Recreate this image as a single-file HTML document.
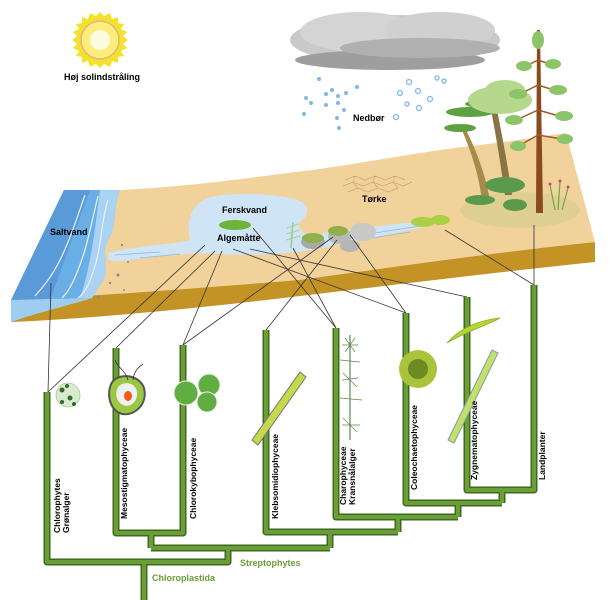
<!DOCTYPE html>
<html><head><meta charset="utf-8"><style>
html,body{margin:0;padding:0;background:#fff;}
svg{display:block;}
text{font-family:"Liberation Sans",sans-serif;font-weight:bold;}
</style></head><body>
<svg width="610" height="600" viewBox="0 0 610 600" xmlns="http://www.w3.org/2000/svg">
<!-- Sun -->
<polygon fill="#f3e130" points="100,12 104,16 110,13 112,19 118,17 118,23 124,24 121,29 127,32 123,36 128,40 123,44 127,48 121,51 124,56 118,57 118,63 112,61 110,67 104,64 100,68 96,64 90,67 88,61 82,63 82,57 76,56 79,51 73,48 77,44 72,40 77,36 73,32 79,29 76,24 82,23 82,17 88,19 90,13 96,16"/>
<circle cx="100" cy="40" r="19" fill="#fbef7a" stroke="#e9b27a" stroke-width="1.5"/>
<circle cx="100" cy="40" r="10" fill="#fffbe0"/>
<text x="64" y="80" font-size="9">Høj solindstråling</text>
<!-- Cloud -->
<ellipse cx="395" cy="40" rx="105" ry="25" fill="#c9c9c9"/>
<ellipse cx="360" cy="32" rx="60" ry="20" fill="#d4d4d4"/>
<ellipse cx="440" cy="30" rx="55" ry="18" fill="#d0d0d0"/>
<ellipse cx="390" cy="60" rx="95" ry="10" fill="#9e9e9e"/>
<ellipse cx="420" cy="48" rx="80" ry="10" fill="#b0b0b0"/>
<!-- Rain -->
<g fill="#7fb8e6">
<circle cx="319" cy="79" r="2"/><circle cx="306" cy="98" r="2"/><circle cx="311" cy="103" r="2"/>
<circle cx="326" cy="94" r="2"/><circle cx="332" cy="90" r="2"/><circle cx="338" cy="96" r="2"/>
<circle cx="346" cy="93" r="2"/><circle cx="357" cy="87" r="2"/><circle cx="326" cy="105" r="2"/>
<circle cx="338" cy="103" r="2"/><circle cx="344" cy="110" r="2"/><circle cx="304" cy="114" r="2"/>
<circle cx="337" cy="118" r="2"/><circle cx="339" cy="128" r="2"/>
</g>
<g fill="none" stroke="#8cc0ec" stroke-width="1.5">
<circle cx="409" cy="82" r="2.5"/><circle cx="437" cy="78" r="2"/><circle cx="444" cy="81" r="2"/>
<circle cx="400" cy="93" r="2.5"/><circle cx="418" cy="91" r="2.5"/><circle cx="430" cy="99" r="2.5"/>
<circle cx="407" cy="104" r="2"/><circle cx="419" cy="108" r="2.5"/><circle cx="396" cy="117" r="2.5"/>
</g>
<text x="353" y="121" font-size="9">Nedbør</text>
<!-- Slab: brown front face -->
<path d="M11,300 L11,322 C100,318 200,308 300,296 C400,284 500,272 595,262 L595,242 Z" fill="#c39326"/>
<!-- Top surface -->
<path d="M64,190 L120,190 C200,186 260,176 313,170 C370,162 430,150 480,145 C520,140 545,136 566,133 L595,242 C500,252 400,266 300,280 C200,288 100,296 11,300 Z" fill="#f2d29b"/>
<ellipse cx="520" cy="210" rx="60" ry="18" fill="#e0cf93"/>
<!-- Sea -->
<path d="M64,190 L120,190 C112,210 118,225 108,240 C100,255 112,270 100,285 L92,298 L11,300 Z" fill="#6aaee6"/>
<path d="M64,190 L90,190 L50,300 L11,300 Z" fill="#5b9ad8"/>
<path d="M100,190 L120,190 C112,210 118,225 108,240 C100,255 112,270 100,285 L92,298 L80,298 C90,270 95,230 100,190Z" fill="#a9d2f3"/>
<path d="M11,300 L92,298 C70,305 40,312 11,322Z" fill="#9fcdf2"/>
<g fill="none" stroke="#e8f4ff" stroke-width="1.2">
<path d="M85,195 C78,215 70,240 60,260 C50,280 40,290 35,296"/>
<path d="M98,196 C92,220 88,245 78,270 C72,285 68,292 62,298"/>
<path d="M108,200 C100,225 102,250 92,275 C88,288 82,295 78,298"/>
</g>
<g fill="#8a8a8a"><circle cx="122" cy="245" r="1.2"/><circle cx="118" cy="275" r="1.5"/><circle cx="110" cy="283" r="1.2"/><circle cx="124" cy="290" r="1"/><circle cx="98" cy="297" r="1.5"/><circle cx="128" cy="262" r="1"/></g>
<!-- Lake and streams -->
<path d="M108,253 C140,245 170,245 190,240 C185,215 195,200 215,196 C240,192 270,194 290,198 C312,202 310,215 300,222 C295,232 310,238 330,232 C360,228 400,224 430,220 L432,226 C400,232 360,240 330,246 C300,254 260,256 220,254 C190,252 160,256 130,260 C118,262 108,262 108,258 Z" fill="#cfe4f5"/>
<g stroke="#8bbbe6" stroke-width="0.8" fill="none"><path d="M115,255 L160,252 M140,258 L180,254 M355,236 L420,226 M360,240 L410,232"/></g>
<g stroke="#c9a46b" stroke-width="0.7" fill="none">
<path d="M345,180 L355,176 L365,180 L375,176 L385,180 L395,176 L405,180 M343,186 L353,182 L363,186 L373,182 L383,186 L393,182 L403,186 L412,182 M348,192 L358,188 L368,192 L378,188 L388,192 L398,188 M355,176 L353,182 L358,188 M375,176 L373,182 L378,188 M395,176 L393,182 L398,188"/>
</g>
<text x="362" y="202" font-size="9">Tørke</text>
<text x="222" y="213" font-size="9">Ferskvand</text>
<ellipse cx="235" cy="225" rx="16" ry="5" fill="#6fb33a"/>
<text x="217" y="241" font-size="9">Algemåtte</text>
<text x="50" y="235" font-size="9">Saltvand</text>
<!-- Rocks -->
<ellipse cx="313" cy="242" rx="12" ry="7" fill="#a9a9a9"/><ellipse cx="313" cy="238" rx="11" ry="5" fill="#8fb04a"/>
<ellipse cx="340" cy="236" rx="12" ry="8" fill="#b8b8b8"/><ellipse cx="338" cy="231" rx="10" ry="5" fill="#8fb04a"/>
<ellipse cx="363" cy="232" rx="13" ry="9" fill="#c8c8c8"/>
<ellipse cx="350" cy="246" rx="10" ry="6" fill="#b5b5b5"/>
<path d="M291,248 L293,222" stroke="#9cc98a" stroke-width="1.5"/>
<g stroke="#a8d296" stroke-width="1"><path d="M287,228 L299,224 M286,234 L300,230 M286,240 L300,236"/></g>
<ellipse cx="423" cy="222" rx="12" ry="5" fill="#a9cf45"/><ellipse cx="440" cy="220" rx="10" ry="5" fill="#a9cf45"/>
<!-- Trees -->
<path d="M482,200 C478,170 470,150 462,130 L466,130 C476,150 484,170 490,200Z" fill="#a88a4a"/>
<path d="M505,195 C500,160 495,130 490,105 L496,105 C501,130 507,160 512,195Z" fill="#8a7444"/>
<g fill="#5ea044"><ellipse cx="470" cy="112" rx="24" ry="5"/><ellipse cx="460" cy="128" rx="16" ry="4"/><ellipse cx="485" cy="104" rx="20" ry="4"/></g>
<g fill="#b6d88c"><ellipse cx="500" cy="100" rx="32" ry="14"/><ellipse cx="505" cy="90" rx="20" ry="10"/></g>
<path d="M536,213 L537,30 L540,30 L543,213 Z" fill="#8a4a1c"/>
<g stroke="#9a5a2a" stroke-width="1.5" fill="none">
<path d="M538,60 L522,68 M538,60 L555,66 M538,85 L516,96 M538,85 L560,92 M538,110 L512,122 M538,110 L566,118 M538,135 L515,148 M538,135 L568,140"/>
</g>
<g fill="#8cc46a">
<ellipse cx="538" cy="40" rx="6" ry="9"/><ellipse cx="524" cy="66" rx="8" ry="5"/><ellipse cx="553" cy="64" rx="8" ry="5"/>
<ellipse cx="518" cy="94" rx="9" ry="5"/><ellipse cx="558" cy="90" rx="9" ry="5"/>
<ellipse cx="514" cy="120" rx="9" ry="5"/><ellipse cx="564" cy="116" rx="9" ry="5"/>
<ellipse cx="518" cy="146" rx="8" ry="5"/><ellipse cx="565" cy="139" rx="8" ry="5"/>
</g>
<g fill="#5b9a4c"><ellipse cx="505" cy="185" rx="20" ry="8"/><ellipse cx="480" cy="200" rx="15" ry="5"/><ellipse cx="515" cy="205" rx="12" ry="6"/></g>
<g stroke="#6aaa44" stroke-width="1.2"><path d="M555,210 L550,185 M558,210 L560,182 M562,210 L568,188"/></g>
<g fill="#e03a8a"><circle cx="550" cy="184" r="1.5"/><circle cx="560" cy="181" r="1.5"/><circle cx="568" cy="187" r="1.5"/></g>
<!-- Connector lines -->
<g stroke="#333" stroke-width="0.8" fill="none">
<line x1="51" y1="283" x2="48" y2="392"/>
<line x1="205" y1="245" x2="48" y2="392"/>
<line x1="215" y1="251" x2="116" y2="348"/>
<line x1="222" y1="251" x2="183" y2="345"/>
<line x1="333" y1="237" x2="183" y2="345"/>
<line x1="337" y1="240" x2="266" y2="330"/>
<line x1="253" y1="228" x2="336" y2="328"/>
<line x1="293" y1="248" x2="336" y2="328"/>
<line x1="233" y1="249" x2="406" y2="313"/>
<line x1="350" y1="235" x2="406" y2="313"/>
<line x1="250" y1="249" x2="467" y2="297"/>
<line x1="445" y1="230" x2="534" y2="285"/>
<line x1="534" y1="225" x2="534" y2="285"/>
</g>
<!-- Tree of life -->
<g fill="none" stroke-linejoin="round">
<g stroke="#3d6a1e" stroke-width="7">
<path d="M47,392 L47,562 L228,562 L228,548"/>
<path d="M144,562 L144,600"/>
<path d="M151,548 L330,548"/>
<path d="M116,348 L116,533 L183,533 L183,345"/><path d="M151,533 L151,548"/>
<path d="M266,330 L266,532 L398,532"/><path d="M330,532 L330,548"/>
<path d="M336,328 L336,517 L458,517"/><path d="M398,517 L398,532"/>
<path d="M406,313 L406,503 L502,503"/><path d="M458,503 L458,517"/>
<path d="M467,297 L467,490 L534,490 L534,285"/><path d="M502,490 L502,503"/>
</g>
<g stroke="#6b9e36" stroke-width="4">
<path d="M47,392 L47,562 L228,562 L228,548"/>
<path d="M144,562 L144,600"/>
<path d="M151,548 L330,548"/>
<path d="M116,348 L116,533 L183,533 L183,345"/><path d="M151,533 L151,548"/>
<path d="M266,330 L266,532 L398,532"/><path d="M330,532 L330,548"/>
<path d="M336,328 L336,517 L458,517"/><path d="M398,517 L398,532"/>
<path d="M406,313 L406,503 L502,503"/><path d="M458,503 L458,517"/>
<path d="M467,297 L467,490 L534,490 L534,285"/><path d="M502,490 L502,503"/>
</g>
</g>
<text x="240" y="566" font-size="9" fill="#6b9e36">Streptophytes</text>
<text x="152" y="581" font-size="9" fill="#6b9e36">Chloroplastida</text>
<!-- Organisms -->
<circle cx="68" cy="395" r="12" fill="#d8ebcf" stroke="#a8c89a" stroke-width="0.8"/>
<g fill="#2f6b2a"><circle cx="62" cy="390" r="2.5"/><circle cx="67" cy="386" r="2"/><circle cx="70" cy="398" r="2.5"/><circle cx="62" cy="402" r="2"/><circle cx="74" cy="404" r="2"/></g>
<path d="M113,381 C122,372 140,376 144,388 C148,404 135,416 122,414 C108,410 106,390 113,381Z" fill="#9ac843" stroke="#555" stroke-width="2"/>
<path d="M119,386 C126,380 136,384 137,392 C138,402 130,408 123,405 C116,402 114,392 119,386Z" fill="#f0f0f0"/>
<ellipse cx="128" cy="396" rx="4" ry="5" fill="#f05a1a"/>
<path d="M128,380 C125,370 118,368 115,360 M133,380 C134,370 140,366 143,364" stroke="#333" stroke-width="0.8" fill="none"/>
<g fill="#5fae3f" stroke="#eee" stroke-width="1"><circle cx="186" cy="393" r="12"/><circle cx="209" cy="385" r="11"/><circle cx="207" cy="402" r="10"/></g>
<path d="M252,440 L300,372 L306,377 L258,445Z" fill="#c5d94a" stroke="#777" stroke-width="1"/>
<path d="M350,440 L350,335" stroke="#3f6b3a" stroke-width="1"/>
<g stroke="#5a8a4a" stroke-width="0.7"><path d="M342,345 L358,345 M340,360 L360,362 M342,380 L358,378 M340,398 L362,400 M342,425 L360,425 M345,338 L355,352 M355,338 L345,352 M343,373 L357,387 M343,418 L357,432"/></g>
<circle cx="418" cy="369" r="19" fill="#a9c43a"/>
<circle cx="418" cy="369" r="10" fill="#6e8a24"/>
<path d="M447,343 C460,328 480,320 500,318 C485,326 465,332 447,343Z" fill="#b7d63a" stroke="#9ab530" stroke-width="1"/>
<path d="M448,440 L492,350 L498,353 L454,443Z" fill="#c3e06a" stroke="#7aa0a0" stroke-width="1"/>
<!-- Vertical labels -->
<g font-size="8.5">
<text transform="translate(60,533) rotate(-90)">Chlorophytes</text>
<text transform="translate(69,533) rotate(-90)">Grønalger</text>
<text transform="translate(127,519) rotate(-90)">Mesostigmatophyceae</text>
<text transform="translate(196,519) rotate(-90)">Chlorokybophyceae</text>
<text transform="translate(278,519) rotate(-90)">Klebsomidiophyceae</text>
<text transform="translate(346,505) rotate(-90)">Charophyceae</text>
<text transform="translate(355,505) rotate(-90)">Kransnålalger</text>
<text transform="translate(417,490) rotate(-90)">Coleochaetophyceae</text>
<text transform="translate(477,480) rotate(-90)">Zygnematophyceae</text>
<text transform="translate(545,480) rotate(-90)">Landplanter</text>
</g>
</svg>
</body></html>
